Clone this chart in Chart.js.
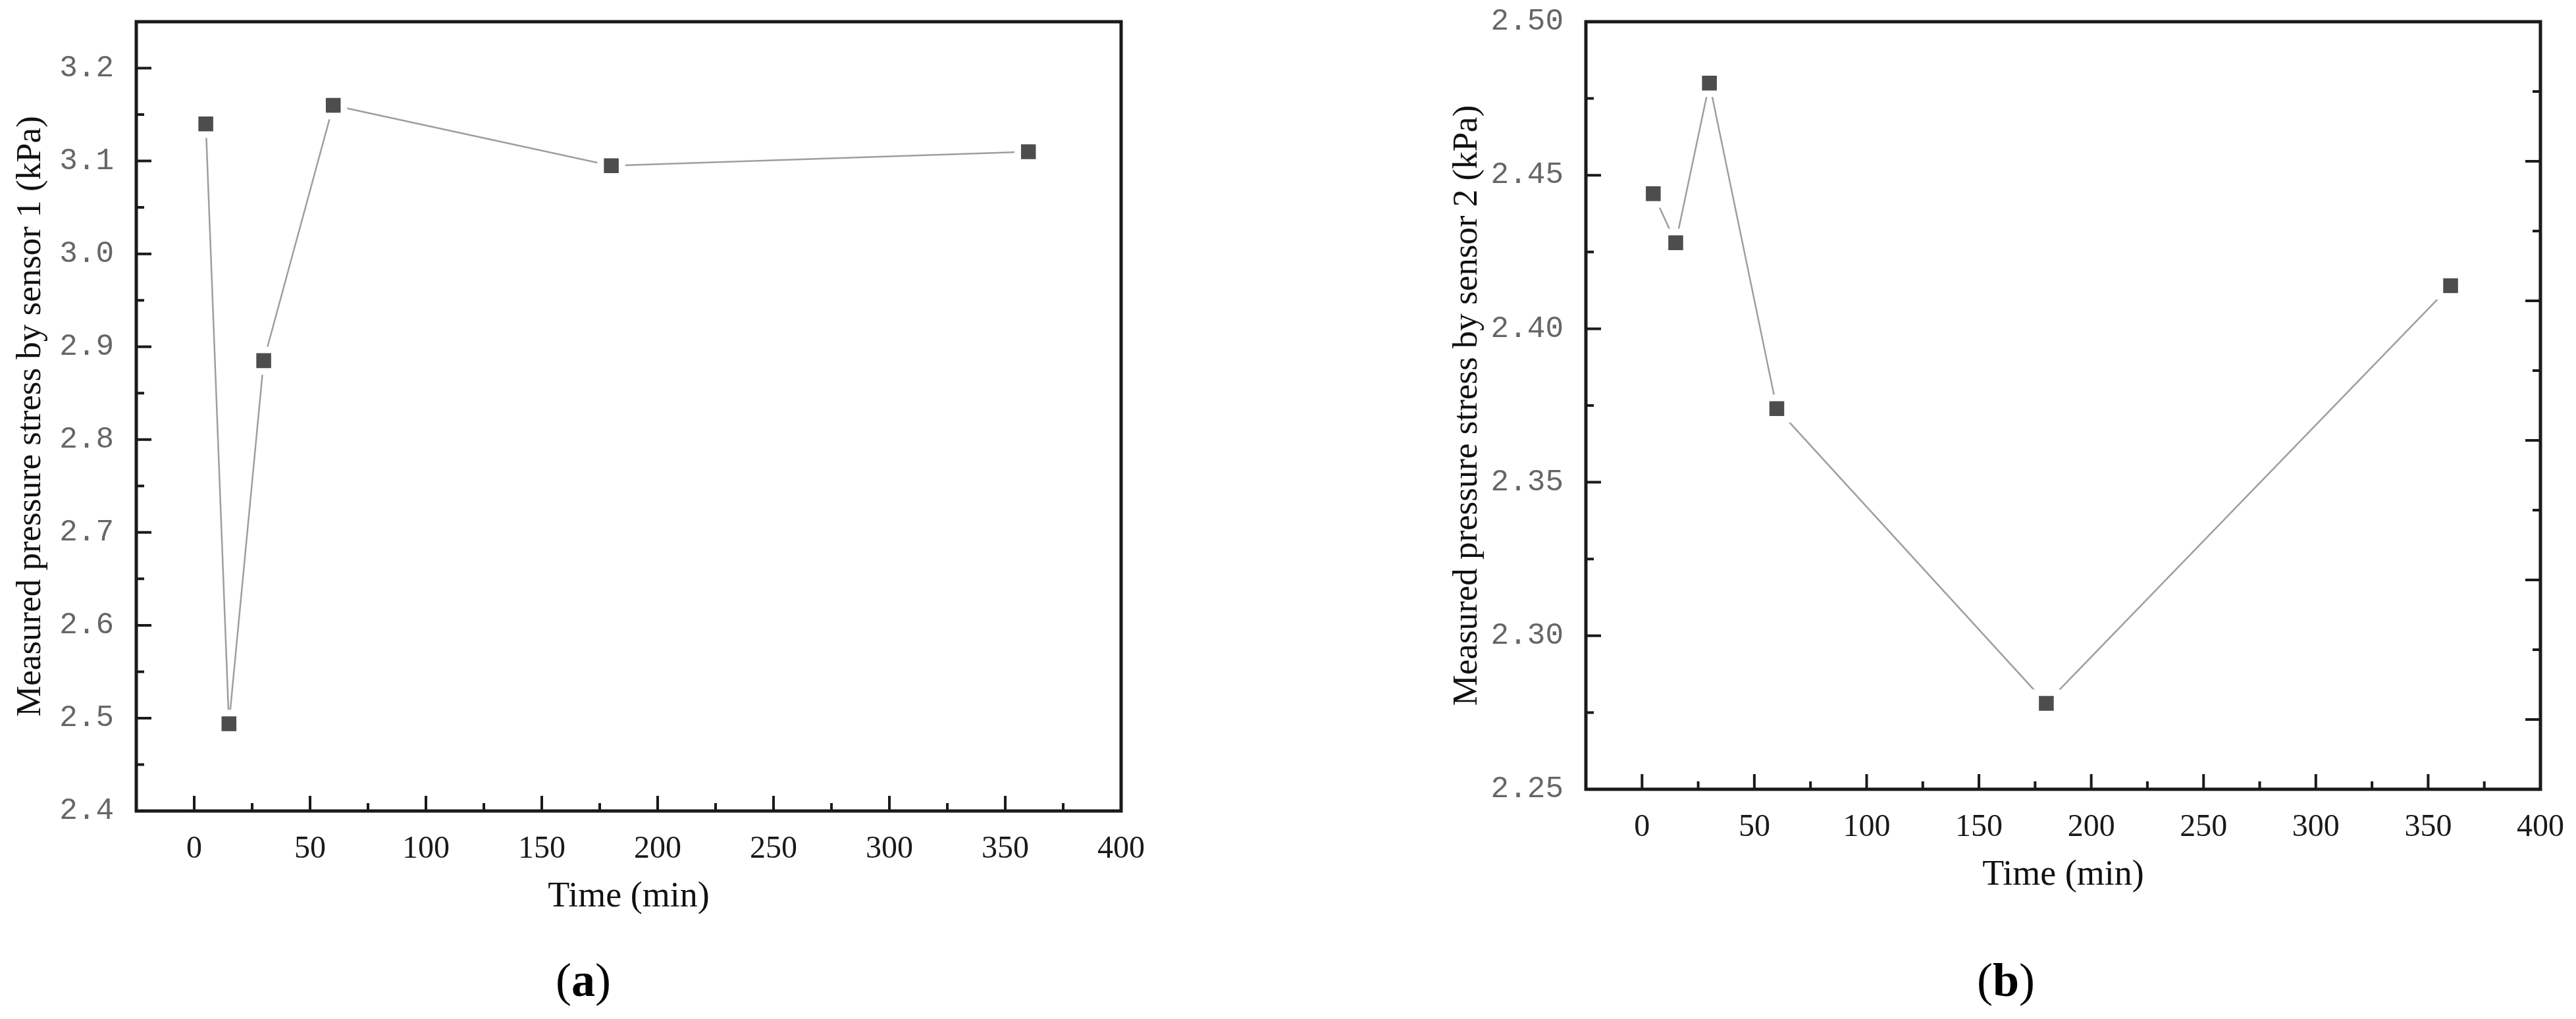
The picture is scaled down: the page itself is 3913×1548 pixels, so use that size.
<!DOCTYPE html>
<html>
<head>
<meta charset="utf-8">
<script src="https://cdn.jsdelivr.net/npm/chart.js@4.4.1/dist/chart.umd.min.js"></script>
<style>
  html, body { margin: 0; padding: 0; background: #fff; }
  body { width: 3913px; height: 1548px; position: relative; overflow: hidden; }
  .panel { position: absolute; top: 0; }
  .tag { position: absolute; top: 1448px; font-family: 'Liberation Serif', serif; font-size: 72px; color: #000; transform: translateX(-50%); }
</style>
</head>
<body>
<div class="panel" style="left:0px"><canvas id="chartA" width="1800" height="1400"></canvas></div>
<div class="panel" style="left:2150px"><canvas id="chartB" width="1763" height="1367"></canvas></div>
<div class="tag" style="left:886px">(<b>a</b>)</div>
<div class="tag" style="left:3047px">(<b>b</b>)</div>
<script>
// Dados
const timeMin = [5, 15, 30, 60, 180, 360];
const sensor1 = [3.14, 2.494, 2.885, 3.16, 3.095, 3.11];
const sensor2 = [2.444, 2.428, 2.48, 2.374, 2.278, 2.414];

// Marcas dos eixos
const timeTicks = [0, 50, 100, 150, 200, 250, 300, 350, 400];
const timeMinor = [25, 75, 125, 175, 225, 275, 325, 375];
const sensor1Ticks = [2.4, 2.5, 2.6, 2.7, 2.8, 2.9, 3.0, 3.1, 3.2];
const sensor1Minor = [2.45, 2.55, 2.65, 2.75, 2.85, 2.95, 3.05, 3.15];
const sensor2Ticks = [2.25, 2.30, 2.35, 2.40, 2.45, 2.50];
const sensor2Minor = [2.275, 2.325, 2.375, 2.425, 2.475];
// eixo direito do painel (b), sem rótulos
const rightTicks = [1, 3, 5, 7, 9];
const rightMinor = [2, 4, 6, 8, 10];

// Moldura e marcas para dentro
const frameTicks = {
    id: 'frameTicks',
    afterDatasetsDraw(chart, args, opts) {
        const { ctx, chartArea: a, scales } = chart;
        ctx.save();
        ctx.strokeStyle = '#1a1a1a';
        ctx.lineWidth = 4;
        ctx.beginPath();
        const hTick = (vals, len) => vals.forEach(v => {
            const px = scales.x.getPixelForValue(v);
            ctx.moveTo(px, a.bottom);
            ctx.lineTo(px, a.bottom - len);
        });
        const vTick = (scale, vals, len, side) => vals.forEach(v => {
            const py = scale.getPixelForValue(v);
            const x0 = side === 'left' ? a.left : a.right;
            ctx.moveTo(x0, py);
            ctx.lineTo(side === 'left' ? x0 + len : x0 - len, py);
        });
        hTick(opts.xMajor, 23);
        hTick(opts.xMinor, 12);
        vTick(scales.y, opts.yMajor, 23, 'left');
        vTick(scales.y, opts.yMinor, 12, 'left');
        if (scales.y2) {
            vTick(scales.y2, opts.rMajor, 23, 'right');
            vTick(scales.y2, opts.rMinor, 12, 'right');
        }
        ctx.stroke();
        ctx.lineWidth = 5;
        ctx.strokeRect(a.left, a.top, a.right - a.left, a.bottom - a.top);
        ctx.restore();
    }
};

function buildChart(id, values, cfg) {
    const scales = {
        x: {
            type: 'linear',
            min: -25,
            max: 400,
            grid: { display: false },
            border: { display: false },
            afterBuildTicks: s => { s.ticks = timeTicks.map(v => ({ value: v })); },
            afterFit: s => {
                s.height = 168;
                s.paddingLeft = 0;
                s.paddingRight = 0;
            },
            ticks: {
                padding: 22,
                color: '#1a1a1a',
                font: { family: 'Liberation Serif', size: 48 },
                callback: v => String(v)
            },
            title: {
                display: true,
                text: 'Time (min)',
                color: '#111',
                font: { family: 'Liberation Serif', size: 54 },
                padding: { top: 0, bottom: 5 }
            }
        },
        y: {
            type: 'linear',
            min: cfg.yMin,
            max: cfg.yMax,
            grid: { display: false },
            border: { display: false },
            afterBuildTicks: s => { s.ticks = cfg.yTicks.map(v => ({ value: v })); },
            afterFit: s => {
                s.width = cfg.yWidth;
                s.paddingTop = 0;
                s.paddingBottom = 0;
            },
            ticks: {
                padding: 26,
                color: '#666',
                font: { family: 'Liberation Mono', size: 46 },
                callback: v => v.toFixed(cfg.digits)
            },
            title: {
                display: true,
                text: cfg.yTitle,
                color: '#111',
                font: { family: 'Liberation Serif', size: 53 },
                padding: { top: cfg.titlePad, bottom: 0 }
            }
        }
    };
    if (cfg.rMajor) {
        scales.y2 = {
            type: 'linear', position: 'right', min: 0, max: 11, display: false,
            afterFit: s => { s.width = 0; s.paddingTop = 0; s.paddingBottom = 0; }
        };
    }

    return new Chart(document.getElementById(id).getContext('2d'), {
        type: 'line',
        data: {
            datasets: [{
                data: timeMin.map((t, i) => ({ x: t, y: values[i] })),
                borderColor: '#9e9e9e',
                borderWidth: 2.5,
                pointStyle: 'rect',
                pointRadius: 23,
                pointBackgroundColor: '#4d4d4d',
                pointBorderColor: '#ffffff',
                pointBorderWidth: 10,
                tension: 0
            }]
        },
        options: {
            responsive: false,
            animation: false,
            layout: { padding: { top: cfg.padTop, right: cfg.padRight, left: 0, bottom: 0 } },
            plugins: {
                legend: { display: false },
                tooltip: { enabled: false },
                frameTicks: {
                    xMajor: timeTicks, xMinor: timeMinor,
                    yMajor: cfg.yTicks, yMinor: cfg.yMinor,
                    rMajor: cfg.rMajor || [], rMinor: cfg.rMinor || []
                }
            },
            scales: scales
        },
        plugins: [frameTicks]
    });
}

function initializeCharts() {
    buildChart('chartA', sensor1, {
        yMin: 2.4, yMax: 3.25, yTicks: sensor1Ticks, yMinor: sensor1Minor, digits: 1,
        yTitle: 'Measured pressure stress by sensor 1 (kPa)',
        yWidth: 207, titlePad: 15, padTop: 26, padRight: 97
    });
    buildChart('chartB', sensor2, {
        yMin: 2.25, yMax: 2.50, yTicks: sensor2Ticks, yMinor: sensor2Minor, digits: 2,
        yTitle: 'Measured pressure stress by sensor 2 (kPa)',
        yWidth: 259, titlePad: 47, padTop: 31, padRight: 54,
        rMajor: rightTicks, rMinor: rightMinor
    });
}

document.addEventListener('DOMContentLoaded', initializeCharts);
</script>
</body>
</html>
